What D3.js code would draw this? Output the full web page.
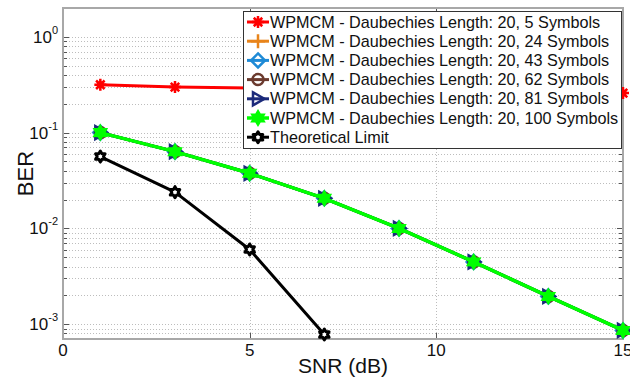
<!DOCTYPE html>
<html>
<head>
<meta charset="utf-8">
<script src="https://cdn.jsdelivr.net/npm/d3@7"></script>
<style>
  html, body { margin: 0; padding: 0; background: #fff; }
  svg { display: block; font-family: "Liberation Sans", Arial, sans-serif; }
</style>
</head>
<body>
<svg id="chart" width="630" height="378"></svg>
<script>
// SNR points (dB)
const snr = [1, 3, 5, 7, 9, 11, 13, 15];
const snrTheory = [1, 3, 5, 7];

// BER values
const ber5 = [0.316, 0.299, 0.292, 0.285, 0.278, 0.271, 0.265, 0.259];
const ber24 = [0.1, 0.0633, 0.0376, 0.0206, 0.01, 0.00447, 0.00195, 0.00086];
const ber43 = [0.1, 0.0633, 0.0376, 0.0206, 0.01, 0.00447, 0.00195, 0.00086];
const ber62 = [0.1, 0.0633, 0.0376, 0.0206, 0.01, 0.00447, 0.00195, 0.00086];
const ber81 = [0.1, 0.0633, 0.0376, 0.0206, 0.01, 0.00447, 0.00195, 0.00086];
const ber100 = [0.1, 0.0633, 0.0376, 0.0206, 0.01, 0.00447, 0.00195, 0.00086];
const berTheory = [0.0562, 0.0239, 0.00602, 0.00078];

const seriesNames = [
  'WPMCM - Daubechies Length: 20, 5 Symbols',
  'WPMCM - Daubechies Length: 20, 24 Symbols',
  'WPMCM - Daubechies Length: 20, 43 Symbols',
  'WPMCM - Daubechies Length: 20, 62 Symbols',
  'WPMCM - Daubechies Length: 20, 81 Symbols',
  'WPMCM - Daubechies Length: 20, 100 Symbols',
  'Theoretical Limit'
];
const xTicks = [0, 5, 10, 15];
const yMajor = [1e-3, 1e-2, 1e-1, 1e0];

const series = [
  { name: seriesNames[0], x: snr, y: ber5, color: '#ff0000', marker: 'asterisk', width: 3 },
  { name: seriesNames[1], x: snr, y: ber24, color: '#e8841a', marker: 'plus', width: 3 },
  { name: seriesNames[2], x: snr, y: ber43, color: '#1e8ad6', marker: 'diamond', width: 3 },
  { name: seriesNames[3], x: snr, y: ber62, color: '#6b3a2e', marker: 'circle', width: 3 },
  { name: seriesNames[4], x: snr, y: ber81, color: '#1b2a7a', marker: 'triangle', width: 3 },
  { name: seriesNames[5], x: snr, y: ber100, color: '#00ff00', marker: 'hexfill', width: 3.5 },
  { name: seriesNames[6], x: snrTheory, y: berTheory, color: '#000000', marker: 'hexopen', width: 3 }
];

const svg = d3.select('#chart');
const margin = { top: 8, right: 7, bottom: 39, left: 63 };
const width = 630, height = 378;

const x = d3.scaleLinear().domain([0, 15]).range([margin.left, width - margin.right]);
const y = d3.scaleLog().domain([7e-4, 2]).range([height - margin.bottom, margin.top]);

// minor log ticks inside the domain
const yMinor = [];
for (let e = -4; e <= 0; e++) {
  for (let m = 2; m <= 9; m++) {
    const v = m * Math.pow(10, e);
    if (v > 7.05e-4 && v < 1.99) yMinor.push(v);
  }
}

const grid = svg.append('g').attr('stroke', '#bdbdbd').attr('stroke-width', 1)
  .attr('stroke-dasharray', '1,2');
grid.selectAll('.gy').data(yMajor.concat(yMinor)).enter().append('line')
  .attr('x1', x(0)).attr('x2', x(15))
  .attr('y1', d => Math.round(y(d)) + 0.5).attr('y2', d => Math.round(y(d)) + 0.5);
grid.selectAll('.gx').data([5, 10]).enter().append('line')
  .attr('x1', d => Math.round(x(d)) + 0.5).attr('x2', d => Math.round(x(d)) + 0.5)
  .attr('y1', y.range()[1]).attr('y2', y.range()[0]);

// inward ticks on left/right/bottom/top
const ticks = svg.append('g').attr('stroke', '#555').attr('stroke-width', 1);
yMajor.concat(yMinor).forEach(v => {
  const yy = Math.round(y(v)) + 0.5;
  const len = yMajor.includes(v) ? 6 : 4;
  ticks.append('line').attr('x1', x(0)).attr('x2', x(0) + len).attr('y1', yy).attr('y2', yy);
  ticks.append('line').attr('x1', x(15)).attr('x2', x(15) - len).attr('y1', yy).attr('y2', yy);
});
[5, 10].forEach(v => {
  const xx = Math.round(x(v)) + 0.5;
  ticks.append('line').attr('x1', xx).attr('x2', xx).attr('y1', y.range()[0]).attr('y2', y.range()[0] - 6);
  ticks.append('line').attr('x1', xx).attr('x2', xx).attr('y1', y.range()[1]).attr('y2', y.range()[1] + 6);
});

// axes box
svg.append('rect')
  .attr('x', x(0)).attr('y', y.range()[1])
  .attr('width', x(15) - x(0)).attr('height', y.range()[0] - y.range()[1])
  .attr('fill', 'none').attr('stroke', '#a8a8a8').attr('stroke-width', 2);

// tick labels
svg.append('g').selectAll('text').data(xTicks).enter().append('text')
  .attr('x', d => x(d)).attr('y', y.range()[0] + 17)
  .attr('text-anchor', 'middle').attr('font-size', 17).attr('fill', '#111')
  .text(d => d);

const yl = svg.append('g').selectAll('text').data(yMajor).enter().append('text')
  .attr('x', x(0) - 5).attr('y', d => y(d) + 6)
  .attr('text-anchor', 'end').attr('font-size', 17).attr('fill', '#111');
yl.append('tspan').text('10');
yl.append('tspan').attr('dy', -9).attr('font-size', 11)
  .text(d => Math.round(Math.log10(d)) === 0 ? '0' : '-' + Math.abs(Math.round(Math.log10(d))));

// axis titles
svg.append('text').attr('x', (x(0) + x(15)) / 2).attr('y', 373)
  .attr('text-anchor', 'middle').attr('font-size', 21).attr('fill', '#111').text('SNR (dB)');
svg.append('text').attr('transform', `translate(${33},${(y.range()[0] + y.range()[1]) / 2}) rotate(-90)`)
  .attr('text-anchor', 'middle').attr('font-size', 22).attr('fill', '#111').text('BER');

// marker paths
function hexagram(r) {
  const pts = [];
  for (let i = 0; i < 12; i++) {
    const a = -Math.PI / 2 + i * Math.PI / 6;
    const rr = i % 2 === 0 ? r : r * 0.58;
    pts.push([rr * Math.cos(a), rr * Math.sin(a)]);
  }
  return 'M' + pts.map(p => p.join(',')).join('L') + 'Z';
}
function drawMarker(g, type, color) {
  if (type === 'asterisk') {
    const r = 6;
    let p = '';
    for (let i = 0; i < 4; i++) {
      const a = i * Math.PI / 4;
      p += `M${-r * Math.cos(a)},${-r * Math.sin(a)}L${r * Math.cos(a)},${r * Math.sin(a)}`;
    }
    g.append('path').attr('d', p).attr('stroke', color).attr('stroke-width', 2.5).attr('fill', 'none');
    g.append('circle').attr('r', 3.5).attr('fill', color);
  } else if (type === 'plus') {
    g.append('path').attr('d', 'M-7,0L7,0M0,-7L0,7').attr('stroke', color).attr('stroke-width', 2.5).attr('fill', 'none');
  } else if (type === 'diamond') {
    g.append('path').attr('d', 'M0,-7L7,0L0,7L-7,0Z').attr('stroke', color).attr('stroke-width', 2.5).attr('fill', 'none');
  } else if (type === 'circle') {
    g.append('circle').attr('r', 5.5).attr('stroke', color).attr('stroke-width', 2.5).attr('fill', 'none');
  } else if (type === 'triangle') {
    g.append('path').attr('d', 'M6.5,0L-5,-6.5L-5,6.5Z').attr('stroke', color).attr('stroke-width', 2.5).attr('fill', 'none');
  } else if (type === 'hexfill') {
    g.append('path').attr('d', hexagram(7.5)).attr('stroke', color).attr('stroke-width', 1.5).attr('fill', color);
  } else if (type === 'hexopen') {
    g.append('path').attr('d', hexagram(5.5)).attr('stroke', color).attr('stroke-width', 3)
      .attr('stroke-linejoin', 'round').attr('fill', '#fff');
  }
}

const line = d3.line().x(d => x(d[0])).y(d => y(d[1]));
const plot = svg.append('g');
series.forEach(s => {
  const pts = s.x.map((v, i) => [v, s.y[i]]);
  plot.append('path').attr('d', line(pts)).attr('fill', 'none')
    .attr('stroke', s.color).attr('stroke-width', s.width).attr('stroke-linejoin', 'round');
  pts.forEach(p => {
    const g = plot.append('g').attr('transform', `translate(${x(p[0])},${y(p[1])})`);
    drawMarker(g, s.marker, s.color);
  });
});

// legend
const lg = svg.append('g');
lg.append('rect').attr('x', 243.5).attr('y', 11.5).attr('width', 378).attr('height', 137)
  .attr('fill', '#fff').attr('stroke', '#333').attr('stroke-width', 1);
series.forEach((s, i) => {
  const cy = 22 + i * 19.2;
  lg.append('line').attr('x1', 247).attr('x2', 269).attr('y1', cy).attr('y2', cy)
    .attr('stroke', s.color).attr('stroke-width', s.width);
  const g = lg.append('g').attr('transform', `translate(258,${cy})`);
  drawMarker(g, s.marker, s.color);
  lg.append('text').attr('x', 270).attr('y', cy + 5.5).attr('font-size', 16.2).attr('fill', '#111').text(s.name);
});
</script>
</body>
</html>
